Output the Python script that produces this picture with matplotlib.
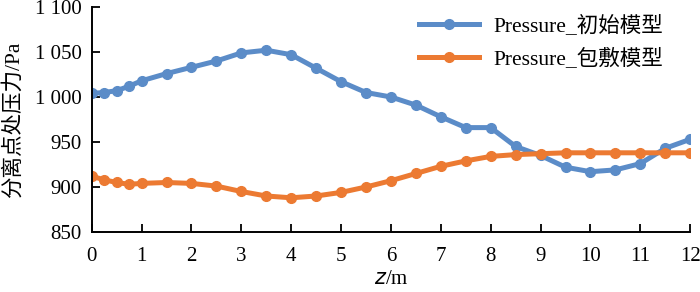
import matplotlib
matplotlib.use('agg')
import matplotlib.pyplot as plt
from matplotlib.ticker import FuncFormatter

# data
z = [0, 0.25, 0.5, 0.75, 1, 1.5, 2, 2.5, 3, 3.5, 4, 4.5, 5, 5.5, 6,
     6.5, 7, 7.5, 8, 8.5, 9, 9.5, 10, 10.5, 11, 11.5, 12]
p_initial = [1004, 1005, 1007, 1012, 1018, 1026, 1033, 1040, 1049, 1052, 1047,
             1032, 1017, 1005, 1000, 991, 978, 966, 966, 945, 935, 922, 917,
             919, 926, 943, 953]
p_coated = [912, 908, 905, 903, 904, 905, 904, 901, 895, 890, 888, 890, 894,
            900, 907, 915, 923, 929, 934, 936, 937, 938, 938, 938, 938, 938, 938]
labels = ["Pressure_初始模型", "Pressure_包敷模型"]
x_ticks = list(range(0, 13))
y_ticks = [850, 900, 950, 1000, 1050, 1100]

fonts = ['Liberation Serif', 'Noto Sans CJK SC', 'DejaVu Sans']
plt.rcParams['font.family'] = fonts

fig = plt.figure(figsize=(7, 2.92), dpi=100)
ax = fig.add_axes([0.131, 0.2055, 0.855, 0.7705])

ax.plot(z, p_initial, color='#5B8CC8', lw=3.6, marker='o', ms=7, label=labels[0])
ax.plot(z, p_coated, color='#EC7A32', lw=3.6, marker='o', ms=7, label=labels[1])

ax.set_xlim(0, 12)
ax.set_ylim(850, 1100)
ax.set_xticks(x_ticks)
ax.set_yticks(y_ticks)


def thousands(v, pos):
    v = int(round(v))
    if v >= 1000:
        return "%d %03d" % (v // 1000, v % 1000)
    return str(v)


ax.yaxis.set_major_formatter(FuncFormatter(thousands))
ax.tick_params(direction='in', length=6, width=1.3, labelsize=15)
ax.tick_params(axis='x', pad=11)
ax.tick_params(axis='y', pad=7)
for s in ['top', 'right']:
    ax.spines[s].set_visible(False)
for s in ['left', 'bottom']:
    ax.spines[s].set_linewidth(1.4)

ax.set_xlabel("$\\it{z}$/m", fontsize=15, labelpad=3)
ax.set_ylabel("分离点处压力/Pa", fontsize=15.5, labelpad=8)

ax.legend(loc='upper right', frameon=False, fontsize=15.5, handlelength=2.8,
          borderaxespad=0.0, labelspacing=0.55, handletextpad=0.7,
          bbox_to_anchor=(0.97, 1.0))

fig.savefig('out.png', dpi=100)
